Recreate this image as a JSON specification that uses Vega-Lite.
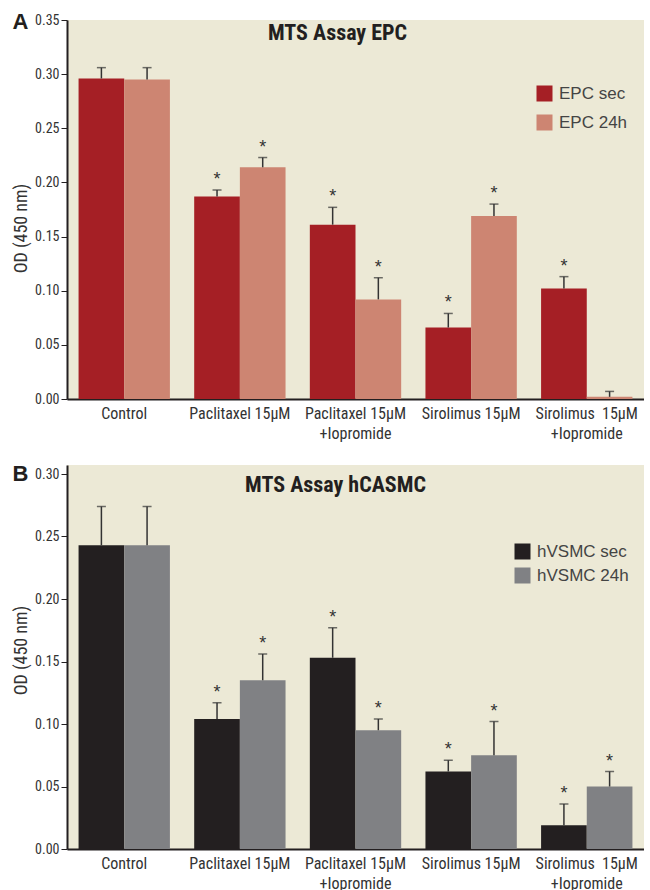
{
  "$schema": "https://vega.github.io/schema/vega-lite/v6.json",
  "padding": {"left": 12, "top": 11, "right": 0, "bottom": 0},
  "spacing": 22,
  "background": "white",
  "resolve": {"scale": {"color": "independent", "xOffset": "independent"}, "legend": {"color": "independent"}},
  "datasets": {
    "epc": [
      {"cond": "Control", "series": "EPC sec", "value": 0.296, "upper": 0.306, "sig": ""},
      {"cond": "Control", "series": "EPC 24h", "value": 0.295, "upper": 0.306, "sig": ""},
      {"cond": "Paclitaxel 15µM", "series": "EPC sec", "value": 0.187, "upper": 0.193, "sig": "*"},
      {"cond": "Paclitaxel 15µM", "series": "EPC 24h", "value": 0.214, "upper": 0.223, "sig": "*"},
      {"cond": "Paclitaxel 15µM|+Iopromide", "series": "EPC sec", "value": 0.161, "upper": 0.177, "sig": "*"},
      {"cond": "Paclitaxel 15µM|+Iopromide", "series": "EPC 24h", "value": 0.092, "upper": 0.112, "sig": "*"},
      {"cond": "Sirolimus 15µM", "series": "EPC sec", "value": 0.066, "upper": 0.079, "sig": "*"},
      {"cond": "Sirolimus 15µM", "series": "EPC 24h", "value": 0.169, "upper": 0.180, "sig": "*"},
      {"cond": "Sirolimus\u00a0 15µM|+Iopromide", "series": "EPC sec", "value": 0.102, "upper": 0.113, "sig": "*"},
      {"cond": "Sirolimus\u00a0 15µM|+Iopromide", "series": "EPC 24h", "value": 0.002, "upper": 0.007, "sig": ""}
    ],
    "smc": [
      {"cond": "Control", "series": "hVSMC sec", "value": 0.243, "upper": 0.274, "sig": ""},
      {"cond": "Control", "series": "hVSMC 24h", "value": 0.243, "upper": 0.274, "sig": ""},
      {"cond": "Paclitaxel 15µM", "series": "hVSMC sec", "value": 0.104, "upper": 0.117, "sig": "*"},
      {"cond": "Paclitaxel 15µM", "series": "hVSMC 24h", "value": 0.135, "upper": 0.156, "sig": "*"},
      {"cond": "Paclitaxel 15µM|+Iopromide", "series": "hVSMC sec", "value": 0.153, "upper": 0.177, "sig": "*"},
      {"cond": "Paclitaxel 15µM|+Iopromide", "series": "hVSMC 24h", "value": 0.095, "upper": 0.104, "sig": "*"},
      {"cond": "Sirolimus 15µM", "series": "hVSMC sec", "value": 0.062, "upper": 0.071, "sig": "*"},
      {"cond": "Sirolimus 15µM", "series": "hVSMC 24h", "value": 0.075, "upper": 0.102, "sig": "*"},
      {"cond": "Sirolimus\u00a0 15µM|+Iopromide", "series": "hVSMC sec", "value": 0.019, "upper": 0.036, "sig": "*"},
      {"cond": "Sirolimus\u00a0 15µM|+Iopromide", "series": "hVSMC 24h", "value": 0.050, "upper": 0.062, "sig": "*"}
    ]
  },
  "config": {
    "font": "Roboto Condensed",
    "view": {"fill": "#ECE9D6", "stroke": null},
    "axis": {
      "labelFont": "Roboto Condensed",
      "labelColor": "#333333",
      "titleFont": "Roboto Condensed",
      "titleColor": "#333333",
      "titleFontWeight": "normal",
      "domainColor": "#231F20",
      "domainWidth": 2,
      "tickColor": "#231F20",
      "grid": false
    },
    "legend": {
      "labelFont": "Liberation Sans",
      "labelFontSize": 17,
      "labelColor": "#444444",
      "symbolType": "square",
      "symbolSize": 256,
      "symbolStrokeWidth": 0,
      "symbolOpacity": 1,
      "labelOffset": 6,
      "padding": 0
    },
    "title": {"font": "Roboto Condensed", "color": "#231F20"}
  },
  "vconcat": [
    {
      "title": {"text": "A", "anchor": "start", "frame": "bounds", "font": "Liberation Sans", "fontSize": 22, "fontWeight": "bold", "offset": -18, "dy": 3},
      "vconcat": [
        {
          "width": 577,
          "height": 379,
          "title": {"text": "MTS Assay EPC", "fontSize": 22, "fontWeight": "bold", "offset": -32, "dx": -18},
          "data": {"name": "epc"},
          "encoding": {
            "x": {
              "field": "cond", "type": "nominal",
              "sort": ["Control", "Paclitaxel 15µM", "Paclitaxel 15µM|+Iopromide", "Sirolimus 15µM", "Sirolimus\u00a0 15µM|+Iopromide"],
              "scale": {"paddingInner": 0.21, "paddingOuter": 0.1},
              "axis": {"title": null, "ticks": false, "labelAngle": 0, "labelFontSize": 16, "labelPadding": 6, "labelLineHeight": 20, "labelExpr": "split(datum.label, '|')"}
            },
            "xOffset": {"field": "series", "type": "nominal", "sort": ["EPC sec", "EPC 24h"], "scale": {"paddingInner": 0, "paddingOuter": 0}},
            "y": {
              "field": "value", "type": "quantitative",
              "scale": {"domain": [0, 0.35], "nice": false},
              "axis": {"title": "OD (450 nm)", "titleFontSize": 18, "titlePadding": 4, "titleY": 208, "labelFontSize": 14, "tickSize": 6, "values": [0, 0.05, 0.1, 0.15, 0.2, 0.25, 0.3, 0.35], "format": ".2f"}
            }
          },
          "layer": [
            {
              "mark": {"type": "bar"},
              "encoding": {
                "color": {
                  "field": "series", "type": "nominal",
                  "sort": ["EPC sec", "EPC 24h"],
                  "scale": {"domain": ["EPC sec", "EPC 24h"], "range": ["#A51F25", "#CD8572"]},
                  "legend": {"title": null, "orient": "none", "legendX": 469, "legendY": 65, "rowPadding": 11}
                }
              }
            },
            {
              "mark": {"type": "rule", "color": "#333333", "strokeWidth": 1.5},
              "encoding": {"y2": {"field": "upper"}}
            },
            {
              "mark": {"type": "tick", "color": "#333333", "thickness": 1.5, "size": 9},
              "encoding": {"y": {"field": "upper", "type": "quantitative"}}
            },
            {
              "mark": {"type": "text", "font": "Liberation Sans", "fontSize": 18, "color": "#333333", "dy": -5, "baseline": "alphabetic"},
              "encoding": {"y": {"field": "upper", "type": "quantitative"}, "text": {"field": "sig"}}
            }
          ]
        }
      ]
    },
    {
      "title": {"text": "B", "anchor": "start", "frame": "bounds", "font": "Liberation Sans", "fontSize": 22, "fontWeight": "bold", "offset": -18, "dy": 3},
      "vconcat": [
        {
          "width": 577,
          "height": 384,
          "title": {"text": "MTS Assay hCASMC", "fontSize": 22, "fontWeight": "bold", "offset": -32, "dx": -20},
          "data": {"name": "smc"},
          "encoding": {
            "x": {
              "field": "cond", "type": "nominal",
              "sort": ["Control", "Paclitaxel 15µM", "Paclitaxel 15µM|+Iopromide", "Sirolimus 15µM", "Sirolimus\u00a0 15µM|+Iopromide"],
              "scale": {"paddingInner": 0.21, "paddingOuter": 0.1},
              "axis": {"title": null, "ticks": false, "labelAngle": 0, "labelFontSize": 16, "labelPadding": 6, "labelLineHeight": 20, "labelExpr": "split(datum.label, '|')"}
            },
            "xOffset": {"field": "series", "type": "nominal", "sort": ["hVSMC sec", "hVSMC 24h"], "scale": {"paddingInner": 0, "paddingOuter": 0}},
            "y": {
              "field": "value", "type": "quantitative",
              "scale": {"domain": [0, 0.3072], "nice": false},
              "axis": {"title": "OD (450 nm)", "titleFontSize": 18, "titlePadding": 4, "titleY": 185, "labelFontSize": 14, "tickSize": 6, "values": [0, 0.05, 0.1, 0.15, 0.2, 0.25, 0.3], "format": ".2f"}
            }
          },
          "layer": [
            {
              "mark": {"type": "bar"},
              "encoding": {
                "color": {
                  "field": "series", "type": "nominal",
                  "sort": ["hVSMC sec", "hVSMC 24h"],
                  "scale": {"domain": ["hVSMC sec", "hVSMC 24h"], "range": ["#231F20", "#808184"]},
                  "legend": {"title": null, "orient": "none", "legendX": 447, "legendY": 78, "rowPadding": 6}
                }
              }
            },
            {
              "mark": {"type": "rule", "color": "#333333", "strokeWidth": 1.5},
              "encoding": {"y2": {"field": "upper"}}
            },
            {
              "mark": {"type": "tick", "color": "#333333", "thickness": 1.5, "size": 9},
              "encoding": {"y": {"field": "upper", "type": "quantitative"}}
            },
            {
              "mark": {"type": "text", "font": "Liberation Sans", "fontSize": 18, "color": "#333333", "dy": -5, "baseline": "alphabetic"},
              "encoding": {"y": {"field": "upper", "type": "quantitative"}, "text": {"field": "sig"}}
            }
          ]
        }
      ]
    }
  ]
}
